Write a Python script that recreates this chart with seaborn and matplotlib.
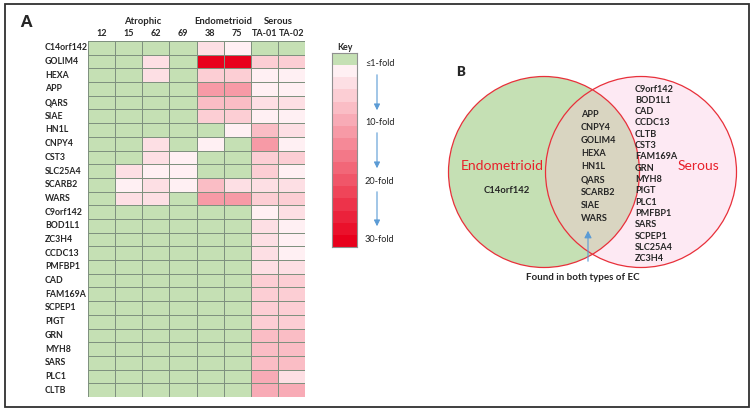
"""
Fold-change heatmap of secreted proteins plus a Venn summary of the overlap.
"""

import matplotlib
matplotlib.use("Agg")
import matplotlib.pyplot as plt
import matplotlib.patches as mpatches
from matplotlib.colors import ListedColormap, BoundaryNorm, to_rgb
import numpy as np
import pandas as pd
import seaborn as sns

genes = [
    "C14orf142", "GOLIM4", "HEXA", "APP", "QARS", "SIAE", "HN1L", "CNPY4",
    "CST3", "SLC25A4", "SCARB2", "WARS", "C9orf142", "BOD1L1", "ZC3H4",
    "CCDC13", "PMFBP1", "CAD", "FAM169A", "SCPEP1", "PIGT", "GRN", "MYH8",
    "SARS", "PLC1", "CLTB",
]
samples = ["12", "15", "62", "69", "38", "75", "TA-01", "TA-02"]
groups = ["Atrophic", "Endometrioid", "Serous"]
group_sizes = [4, 2, 2]

# fold change per sample (1 = <=1-fold, shown green)
fold_12 = [1] * 26
fold_15 = [1, 1, 1, 1, 1, 1, 1, 1, 1, 4, 2, 4] + [1] * 14
fold_62 = [1, 4, 4, 1, 1, 1, 1, 4, 4, 2, 4, 4] + [1] * 14
fold_69 = [1, 1, 1, 1, 1, 1, 1, 1, 2, 2, 2, 1] + [1] * 14
fold_38 = [4, 30, 6, 12, 8, 6, 1, 2, 1, 1, 8, 12] + [1] * 14
fold_75 = [2, 30, 6, 12, 8, 6, 2, 1, 1, 1, 4, 12] + [1] * 14
fold_ta01 = [1, 6, 2, 2, 4, 2, 8, 12, 6, 6, 4, 6,
             2, 4, 4, 4, 4, 6, 6, 6, 6, 8, 8, 8, 10, 10]
fold_ta02 = [1, 6, 2, 2, 4, 2, 4, 2, 6, 2, 4, 6,
             4, 2, 2, 2, 4, 6, 6, 6, 6, 8, 8, 8, 4, 10]

key_levels = [1, 2, 4, 6, 8, 10, 12, 14, 16, 18, 20, 22, 24, 26, 28, 30]
key_labels = ["\u22641-fold", "10-fold", "20-fold", "30-fold"]

endo_only = ["C14orf142"]
shared = ["APP", "CNPY4", "GOLIM4", "HEXA", "HN1L", "QARS", "SCARB2", "SIAE", "WARS"]
serous_only = ["C9orf142", "BOD1L1", "CAD", "CCDC13", "CLTB", "CST3", "FAM169A",
               "GRN", "MYH8", "PIGT", "PLC1", "PMFBP1", "SARS", "SCPEP1",
               "SLC25A4", "ZC3H4"]

df = pd.DataFrame(
    np.column_stack([fold_12, fold_15, fold_62, fold_69, fold_38, fold_75,
                     fold_ta01, fold_ta02]),
    index=genes, columns=samples,
)

# colour scale: green, then 15 steps from pale pink to red
green = "#c5e0b4"
lo, hi = np.array(to_rgb("#fff0f3")), np.array(to_rgb("#e8001c"))
pinks = [tuple(lo + (hi - lo) * t) for t in np.linspace(0, 1, 15)]
cmap = ListedColormap([green] + pinks)
norm = BoundaryNorm([0, 1.5] + list(range(3, 32, 2)), cmap.N)

W, H = 756, 412
font = ["Lato", "DejaVu Sans"]
sns.set_theme(style="white")
plt.rcParams["font.family"] = font

fig = plt.figure(figsize=(W / 100, H / 100), dpi=100)


def px_axes(x0, y0, x1, y1):
    return fig.add_axes([x0 / W, 1 - y1 / H, (x1 - x0) / W, (y1 - y0) / H])


# overlay in pixel coordinates for border, labels and the Venn diagram
ov = px_axes(0, 0, W, H)
ov.set_xlim(0, W)
ov.set_ylim(H, 0)
ov.axis("off")

# heatmap
hm_left, hm_right = 88, 305
ax = px_axes(hm_left, 41, hm_right, 397)
sns.heatmap(df, ax=ax, cmap=cmap, norm=norm, cbar=False,
            linewidths=0.6, linecolor="#7f917f",
            xticklabels=True, yticklabels=True)
ax.xaxis.tick_top()
ax.tick_params(axis="both", length=0)
ax.tick_params(axis="x", pad=2)
ax.set_xticklabels(samples, fontsize=6.5, fontweight="bold", rotation=0)
ax.set_yticklabels(genes, fontsize=6.3, fontweight="bold", rotation=0, ha="left")
ax.tick_params(axis="y", pad=31)
ax.set_xlabel("")
ax.set_ylabel("")

# group headers over the sample columns
col_w = (hm_right - hm_left) / len(samples)
start = 0
for name, n in zip(groups, group_sizes):
    ov.text(hm_left + col_w * (start + n / 2), 21, name, ha="center",
            va="center", fontsize=6.8, fontweight="bold")
    start += n

ov.text(26, 22, "A", ha="center", va="center", fontsize=11.5, fontweight="heavy")

# colour key
kax = px_axes(332, 53, 357, 247)
sns.heatmap(pd.DataFrame({"key": key_levels}), ax=kax, cmap=cmap, norm=norm,
            cbar=False, xticklabels=False, yticklabels=False)
for s in kax.spines.values():
    s.set_visible(True)
    s.set_color("#909090")
    s.set_linewidth(0.8)
ov.text(344.5, 47.5, "Key", ha="center", va="center", fontsize=6.4,
        fontweight="bold")
for lab, y in zip(key_labels, [63, 122, 181, 239]):
    ov.text(365, y, lab, ha="left", va="center", fontsize=6.6, color="#222222")
for y0, y1 in [(72, 113), (130, 171), (189, 229)]:
    ov.annotate("", xy=(377, y1), xytext=(377, y0),
                arrowprops=dict(arrowstyle="-|>,head_length=0.3,head_width=0.15",
                                color="#5b9bd5", lw=0.8))

# Venn diagram
left_c = mpatches.Circle((544, 172), 95.5, facecolor=green, edgecolor="none")
right_c = mpatches.Circle((641, 172), 95.5, facecolor="#fde9f3", edgecolor="none")
ov.add_patch(left_c)
ov.add_patch(right_c)
overlap = mpatches.Circle((641, 172), 95.5, facecolor="#d9d5c1", edgecolor="none")
ov.add_patch(overlap)
overlap.set_clip_path(left_c)
for cx in (544, 641):
    ov.add_patch(mpatches.Circle((cx, 172), 95.5, facecolor="none",
                                 edgecolor="#e8303a", lw=0.9))

ov.text(461, 72, "B", ha="center", va="center", fontsize=9.5, fontweight="heavy")
ov.text(502, 166, "Endometrioid", ha="center", va="center", fontsize=10,
        color="#e8202a")
ov.text(698, 166, "Serous", ha="center", va="center", fontsize=10, color="#e8202a")
for i, g in enumerate(endo_only):
    ov.text(507, 190 + i * 13, g, ha="center", va="center", fontsize=6.8,
            fontweight="bold")
for i, g in enumerate(shared):
    ov.text(581, 114 + i * 13.1, g, ha="left", va="center", fontsize=6.6,
            fontweight="bold")
for i, g in enumerate(serous_only):
    ov.text(635, 89 + i * 11.33, g, ha="left", va="center", fontsize=6.6,
            fontweight="bold")

ov.annotate("", xy=(588, 228), xytext=(588, 264),
            arrowprops=dict(arrowstyle="-|>,head_length=0.35,head_width=0.18",
                            color="#5b9bd5", lw=0.8))
ov.text(583, 278, "Found in both types of EC", ha="center", va="center",
        fontsize=7, fontweight="bold")

# outer frame
ov.add_patch(mpatches.Rectangle((5, 4), 744, 403, facecolor="none",
                                edgecolor="#303030", lw=1.3))

fig.savefig("out.png", dpi=100)
plt.close(fig)
